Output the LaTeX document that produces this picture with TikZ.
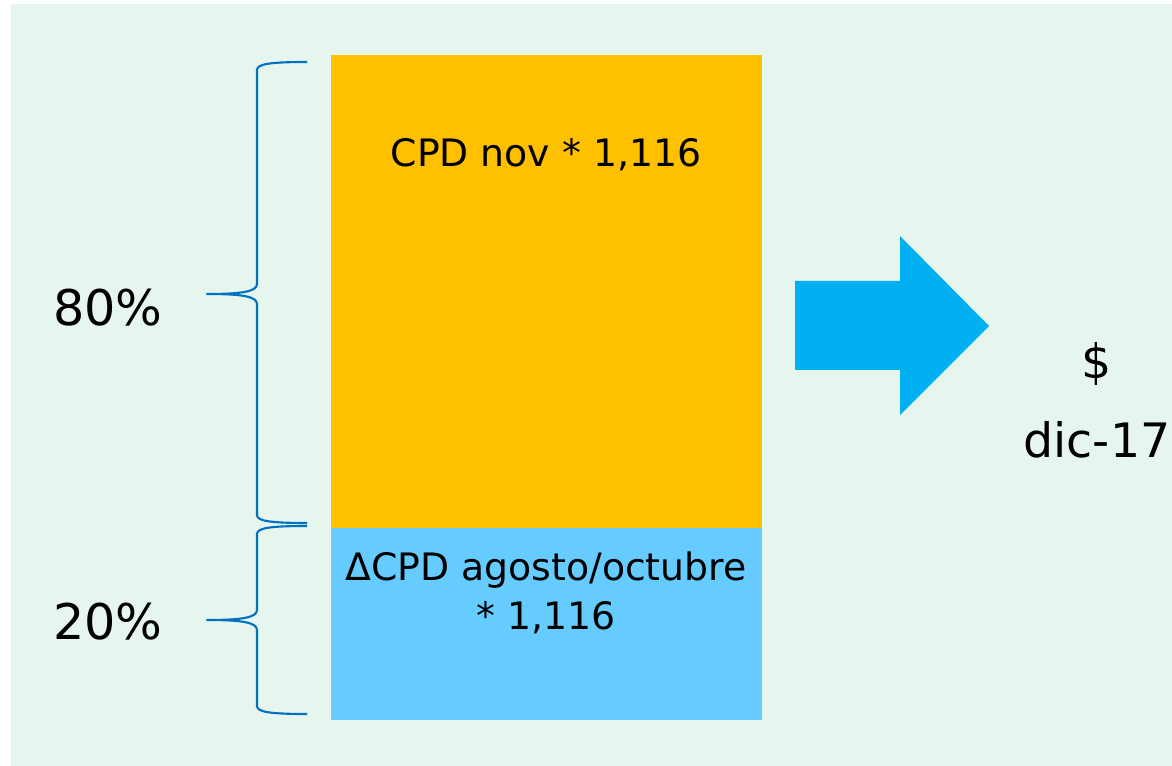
\documentclass[tikz,border=0pt]{standalone}
\usepackage{fontspec}
\setmainfont{DejaVu Sans}
\usepackage{tikz}
\definecolor{bggreen}{HTML}{E6F5EE}
\definecolor{boxorange}{HTML}{FFC000}
\definecolor{boxblue}{HTML}{66CCFF}
\definecolor{arrowblue}{HTML}{00B0F0}
\definecolor{bracecol}{HTML}{0070C0}
\begin{document}
\begin{tikzpicture}[x=0.02cm,y=-0.02cm]
\tikzset{boxtext/.style = {align=center,font=\fontsize{21.5}{28}\selectfont}}
\tikzset{bigtext/.style = {font=\fontsize{28}{32}\selectfont}}
\tikzset{brace/.style = {draw=bracecol,line width=1.2pt,line join=round}}
\useasboundingbox (0,0) rectangle (1172,766);
\fill[bggreen] (11,4) rectangle (1172,766);
% boxes
\fill[boxorange] (331,55) rectangle (762,528);
\fill[boxblue] (331,528) rectangle (762,720);
\node[boxtext] (nov) at (546,155) {CPD nov * 1,116};
\node[boxtext] (ago) at (546,593) {ΔCPD agosto/octubre\\* 1,116};
% labels
\node[bigtext] (p80) at (108,308) {80\%};
\node[bigtext] (p20) at (108,622) {20\%};
\node[align=center,font=\fontsize{27}{45}\selectfont] (dic) at (1097,400) {\$\\dic-17};
% arrow
\fill[arrowblue] (795,281) -- (900,281) -- (900,236) -- (989,326)
  -- (900,415) -- (900,370) -- (795,370) -- cycle;
% braces
\coordinate (a1) at (307,62);
\coordinate (t1) at (207,294);
\coordinate (b1) at (307,523);
\coordinate (a2) at (307,526);
\coordinate (t2) at (207,620);
\coordinate (b2) at (307,714);
\draw[brace] (a1) .. controls (270,62) and (257,64) .. (257,70) -- (257,284)
  .. controls (257,292) and (240,294) .. (t1)
  .. controls (240,294) and (257,296) .. (257,304) -- (257,515)
  .. controls (257,521) and (270,523) .. (b1);
\draw[brace] (a2) .. controls (270,526) and (257,528) .. (257,534) -- (257,610)
  .. controls (257,618) and (240,620) .. (t2)
  .. controls (240,620) and (257,622) .. (257,630) -- (257,706)
  .. controls (257,712) and (270,714) .. (b2);
\end{tikzpicture}
\end{document}
